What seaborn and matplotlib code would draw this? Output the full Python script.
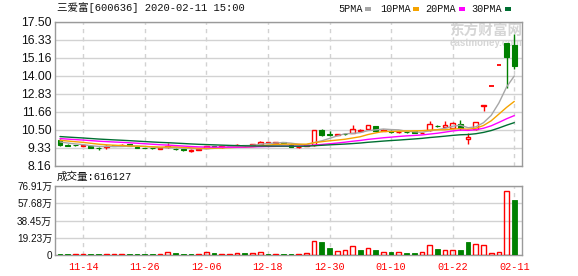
import numpy as np
import pandas as pd
import matplotlib
matplotlib.use("Agg")
import matplotlib.pyplot as plt
from matplotlib.patches import Rectangle
import seaborn as sns

# ---------------- data ----------------
title = "三爱富[600636] 2020-02-11 15:00"

dates = ["11-11", "11-12", "11-13", "11-14", "11-15", "11-18", "11-19", "11-20", "11-21", "11-22",
         "11-25", "11-26", "11-27", "11-28", "11-29",
         "12-02", "12-03", "12-04", "12-05", "12-06", "12-09", "12-10", "12-11", "12-12", "12-13",
         "12-16", "12-17", "12-18", "12-19", "12-20", "12-23", "12-24", "12-25", "12-26", "12-27",
         "12-30", "12-31",
         "01-02", "01-03", "01-06", "01-07", "01-08", "01-09", "01-10", "01-13", "01-14", "01-15",
         "01-16", "01-17", "01-20", "01-21", "01-22", "01-23",
         "02-03", "02-04", "02-05", "02-06", "02-07", "02-10", "02-11"]

open_ = [9.83, 9.52, 9.51, 9.47, 9.46, 9.31, 9.38, 9.48, 9.50, 9.57,
         9.37, 9.32, 9.30, 9.26, 9.35, 9.26, 9.23, 9.13, 9.20, 9.33,
         9.42, 9.36, 9.42, 9.50, 9.50, 9.48, 9.59, 9.65, 9.62, 9.68,
         9.52, 9.36, 9.44, 9.48, 10.48, 10.20, 10.16, 10.24, 10.28, 10.42,
         10.56, 10.73, 10.44, 10.42, 10.33, 10.37, 10.38, 10.28, 10.45, 10.75,
         10.70, 10.63, 10.89, 9.90, 10.52, 12.00, 13.33, 14.66, 16.13, 16.00]
high_ = [9.86, 9.54, 9.53, 9.52, 9.47, 9.35, 9.50, 9.49, 9.56, 9.58,
         9.39, 9.34, 9.32, 9.30, 9.64, 9.28, 9.25, 9.22, 9.27, 9.46,
         9.44, 9.45, 9.46, 9.58, 9.52, 9.58, 9.74, 9.72, 9.72, 9.70,
         9.54, 9.41, 9.52, 10.45, 10.56, 10.38, 10.22, 10.28, 10.78, 10.52,
         10.82, 10.75, 10.53, 10.47, 10.38, 10.39, 10.41, 10.33, 11.06, 10.78,
         11.04, 10.97, 11.12, 10.25, 11.02, 12.12, 13.33, 14.66, 16.13, 16.72]
low_ = [9.47, 9.45, 9.44, 9.45, 9.30, 9.20, 9.26, 9.43, 9.49, 9.41,
        9.32, 9.29, 9.27, 9.24, 9.33, 9.21, 9.09, 9.06, 9.18, 9.31,
        9.37, 9.34, 9.40, 9.49, 9.46, 9.46, 9.57, 9.62, 9.60, 9.60,
        9.35, 9.34, 9.42, 9.46, 10.08, 10.10, 10.12, 10.18, 10.26, 10.38,
        10.52, 10.40, 10.41, 10.30, 10.26, 10.31, 10.25, 10.25, 10.43, 10.68,
        10.66, 10.60, 10.49, 9.57, 10.45, 11.70, 13.33, 14.66, 13.20, 14.40]
close_ = [9.50, 9.47, 9.49, 9.50, 9.32, 9.28, 9.45, 9.46, 9.53, 9.42,
          9.34, 9.30, 9.28, 9.29, 9.46, 9.24, 9.21, 9.15, 9.24, 9.44,
          9.39, 9.43, 9.44, 9.52, 9.48, 9.57, 9.72, 9.69, 9.71, 9.62,
          9.37, 9.38, 9.50, 10.45, 10.17, 10.15, 10.19, 10.21, 10.52, 10.46,
          10.79, 10.43, 10.50, 10.34, 10.36, 10.34, 10.27, 10.31, 10.84, 10.72,
          10.79, 10.95, 10.63, 10.02, 11.02, 12.12, 13.33, 14.66, 15.20, 14.60]
volume = [11000, 10000, 9000, 9000, 10000, 9000, 11000, 8000, 9000, 10000,
          9000, 8000, 9000, 10000, 30000, 22000, 11000, 9000, 10000, 30000,
          22000, 10000, 9000, 22000, 22000, 23000, 31000, 10000, 9000, 11000,
          9000, 10000, 22000, 152000, 145000, 78000, 41000, 52000, 97000, 56000,
          74000, 56000, 30000, 33000, 30000, 22000, 22000, 30000, 108000, 67000,
          52000, 52000, 56000, 145000, 119000, 108000, 22000, 30000, 710000, 616127]
# closes of the 29 sessions before the first bar (needed for the moving averages)
prior_close = [10.45, 10.40, 10.38, 10.35, 10.30, 10.28, 10.26, 10.25, 10.22, 10.21,
               10.18, 10.12, 10.08, 10.05, 10.02, 10.00, 9.98, 9.97, 9.96, 9.94,
               9.96, 9.95, 9.93, 9.90, 9.86, 9.82, 9.78, 9.72, 9.68]

price_ticks = [8.16, 9.33, 10.50, 11.66, 12.83, 14.00, 15.16, 16.33, 17.50]
volume_ticks = [0, 192300, 384500, 576800, 769100]
ma_windows = [5, 10, 20, 30]
ma_labels = ["5PMA", "10PMA", "20PMA", "30PMA"]

# ---------------- style ----------------
RED = "#ff0000"
GREEN = "#008000"
ma_colors = ["#a6a6a6", "#f5a300", "#ff00ff", "#006f32"]
GRID = "#d2d2d2"
SPINE = "#9a9a9a"

sns.set_theme(style="white")
plt.rcParams['font.family'] = ['Liberation Sans', 'Noto Sans CJK SC', 'DejaVu Sans']

W, H = 578, 276
fig = plt.figure(figsize=(W / 100, H / 100), dpi=100)
fig.patch.set_facecolor("white")


def fx(px):
    return px / W


def fy(py):
    return 1 - py / H


L, R = 55, 522
ax_p = fig.add_axes([fx(L), fy(165.7), (R - L) / W, (165.7 - 21.7) / H])
ax_v = fig.add_axes([fx(L), fy(255), (R - L) / W, (255 - 186) / H])

n = len(close_)
idx = np.arange(n)
df = pd.DataFrame({"idx": idx, "date": dates, "open": open_, "high": high_,
                   "low": low_, "close": close_, "volume": volume})
full_close = pd.Series(prior_close + close_)
for wdw in ma_windows:
    df[f"MA{wdw}"] = full_close.rolling(wdw).mean().iloc[len(prior_close):].values
prev_close = [prior_close[-1]] + close_[:-1]

bw = 0.62
# ---------------- candles ----------------
for i in range(n):
    o, h, l, c, pc = open_[i], high_[i], low_[i], close_[i], prev_close[i]
    if c > o:
        col = RED
    elif c < o:
        col = GREEN
    else:
        col = RED if c >= pc else GREEN
    top, bot = max(o, c), min(o, c)
    if h > top:
        ax_p.vlines(i, top, h, color=col, lw=1, zorder=3)
    if l < bot:
        ax_p.vlines(i, l, bot, color=col, lw=1, zorder=3)
    if c != o:
        if c > o:
            ax_p.add_patch(Rectangle((i - bw / 2, bot), bw, top - bot, facecolor="none",
                                     edgecolor=col, lw=1, zorder=3))
        else:
            ax_p.add_patch(Rectangle((i - bw / 2, bot), bw, top - bot, facecolor=col,
                                     edgecolor=col, lw=0.8, zorder=3))
    else:
        ax_p.hlines(o, i - bw / 2, i + bw / 2, color=col, lw=1.3, zorder=3)

# ---------------- moving averages ----------------
for wdw, colr in zip(ma_windows, ma_colors):
    sns.lineplot(data=df, x="idx", y=f"MA{wdw}", ax=ax_p, color=colr, lw=1.0,
                 zorder=4, legend=False)

# ---------------- volume ----------------
for i in range(n):
    v = volume[i]
    if close_[i] >= prev_close[i]:
        ax_v.bar(i, v, width=bw, facecolor="none", edgecolor=RED, lw=1, zorder=3)
    else:
        ax_v.bar(i, v, width=bw, facecolor=GREEN, edgecolor=GREEN, lw=0.6, zorder=3)

# ---------------- axes formatting ----------------
tick_idx = [i for i in range(n) if (i - 3) % 8 == 0]
for ax in (ax_p, ax_v):
    ax.set_xlim(-0.65, n)
    ax.set_xlabel("")
    ax.set_ylabel("")
    ax.set_facecolor("none")
    ax.set_axisbelow(True)
    ax.grid(axis="y", color=GRID, lw=1, ls="-", zorder=0.5)
    ax.grid(axis="x", color=GRID, lw=1, ls=(0, (3, 3)), zorder=0.5)
    for s in ax.spines.values():
        s.set_visible(True)
        s.set_color(SPINE)
        s.set_linewidth(1)
    ax.tick_params(length=0)

ax_p.set_ylim(price_ticks[0], price_ticks[-1])
ax_p.set_yticks(price_ticks, [f"{t:.2f}" for t in price_ticks])
ax_p.set_xticks(tick_idx, [""] * len(tick_idx))
ax_p.tick_params(axis="y", labelsize=8.7, pad=2.5, labelcolor="#111111")

ax_v.set_ylim(volume_ticks[0], volume_ticks[-1])
ax_v.set_yticks(volume_ticks,
                ["0" if t == 0 else f"{t / 1e4:.2f}万" for t in volume_ticks])
ax_v.tick_params(axis="y", labelsize=7.2, pad=2, labelcolor="#111111")
ax_v.set_xticks(tick_idx, [dates[i] for i in tick_idx])
ax_v.tick_params(axis="x", labelsize=7.3, pad=5, labelcolor=RED)
for t in ax_v.get_xticklabels():
    t.set_fontfamily(["Liberation Mono", "DejaVu Sans Mono"])

# ---------------- texts ----------------
mono_cjk = ["Liberation Mono", "Noto Sans CJK SC"]
fig.text(fx(57), fy(7.8), title, family=mono_cjk, fontsize=7.6, color="#111111",
         ha="left", va="center")
fig.text(fx(57), fy(177), f"成交量:{volume[-1]}", family=mono_cjk, fontsize=7.6,
         color="#111111", ha="left", va="center")

leg_x = [338.3, 380.0, 425.7, 471.7]
sq_x = [365.3, 413.3, 459.3, 505.0]
for lab, colr, tx, sx in zip(ma_labels, ma_colors, leg_x, sq_x):
    fig.text(fx(tx), fy(8.8), lab, family=["Liberation Mono"], fontsize=7.3,
             color="#111111", ha="left", va="center")
    fig.add_artist(Rectangle((fx(sx), fy(10.8)), 6 / W, 3.5 / H, transform=fig.transFigure,
                             facecolor=colr, edgecolor="none"))

# watermark
ax_p.text(fx(486), fy(30.5), "东方财富网", transform=fig.transFigure, family=["Noto Sans CJK SC"],
          fontsize=10.5, fontweight="bold", color="#d6d6d6", ha="center", va="center", zorder=0.2)
ax_p.text(fx(486), fy(43.5), "eastmoney.com", transform=fig.transFigure, family=["Liberation Sans"],
          fontsize=7, fontweight="bold", color="#d6d6d6", ha="center", va="center", zorder=0.2)

fig.savefig("out.png", dpi=100, facecolor="white")
